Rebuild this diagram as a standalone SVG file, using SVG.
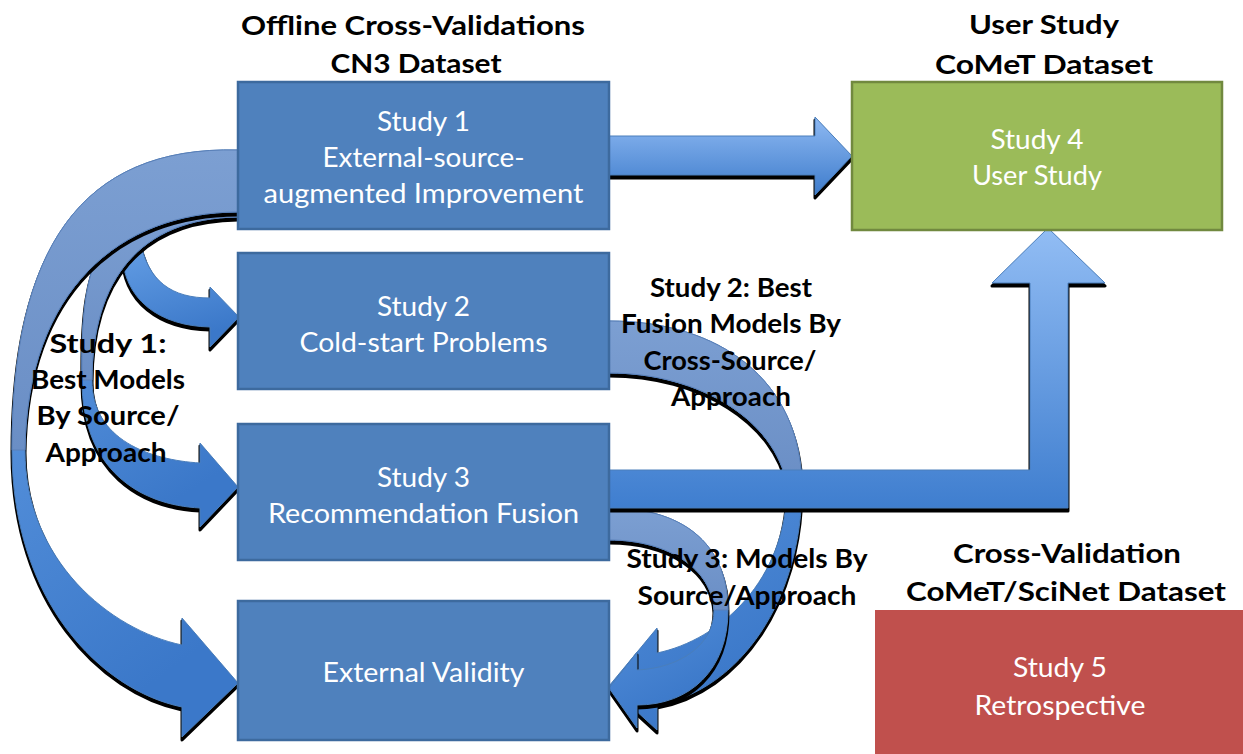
<svg xmlns="http://www.w3.org/2000/svg" width="1243" height="754" viewBox="0 0 1243 754">
  <style>
    text { font-family: Lato, "Liberation Sans", sans-serif; font-size: 26px; text-anchor: middle; }
    .title, .label { fill: #000; font-weight: bold; }
    .inbox { fill: #fff; }
    .box-blue { fill: #4F81BD; stroke: #3D6A9E; stroke-width: 2.5; }
    .box-green { fill: #9BBB59; stroke: #71893F; stroke-width: 2.5; }
    .box-red { fill: #C0504D; }
    .shadow { fill: #000; stroke: #000; stroke-width: 3; stroke-linejoin: round; }
    .arrow { stroke: #4A7EBB; stroke-width: 1; }
    .back { stroke: #5A80B8; stroke-width: 1; }
  </style>
  <defs>
    <linearGradient id="gStraight" x1="0" y1="117" x2="0" y2="195" gradientUnits="userSpaceOnUse">
      <stop offset="0" stop-color="#8EB9F2"/>
      <stop offset="1" stop-color="#3E7CCC"/>
    </linearGradient>
    <linearGradient id="gElbow" x1="0" y1="228" x2="0" y2="508" gradientUnits="userSpaceOnUse">
      <stop offset="0" stop-color="#92BDF4"/>
      <stop offset="1" stop-color="#3F7ECF"/>
    </linearGradient>
    <linearGradient id="gFront" x1="0" y1="0" x2="0.3" y2="1">
      <stop offset="0" stop-color="#66A0E6"/>
      <stop offset="1" stop-color="#3B78C9"/>
    </linearGradient>
    <linearGradient id="gBack" x1="0" y1="0" x2="0" y2="1">
      <stop offset="0" stop-color="#7C9FD2"/>
      <stop offset="1" stop-color="#6A8EC5"/>
    </linearGradient>

    <!-- curved arrow outlines (full body and the rear half) -->
    <path id="arrowA" d="M245,150 L238,150 C80,146 12,250 12,450 C12,600 100,690 182,707 L182,737 L238,683 L182,618 L182,645 C110,630 25,560 25,450 C27,290 120,212 238,212 L245,212 Z"/>
    <path id="arrowAback" d="M245,150 L238,150 C80,146 12,250 12,450 L25,450 C27,290 120,212 238,212 L245,212 Z"/>
    <path id="arrowB" d="M245,195 L238,195 C100,195 80,250 82,380 C82,470 140,505 200,508 L200,527 L238,487 L200,443 L200,463 C150,460 92,440 92,380 C92,280 140,218 238,217 L245,217 Z"/>
    <path id="arrowBback" d="M245,195 L238,195 C100,195 80,250 82,380 L92,380 C92,280 140,218 238,217 L245,217 Z"/>
    <path id="arrowC" d="M140,240 C148,282 172,298 210,298 L210,287 L239,317 L210,347 L210,327 C160,326 122,300 122,250 Z"/>
    <path id="arrowD" d="M600,321 L609,321 C720,321 800,380 802,485 C802,600 740,690 657,705 L657,730 L609,686 L657,628 L657,653 C720,640 787,580 787,485 C775,420 700,373 609,373 L600,373 Z"/>
    <path id="arrowDback" d="M600,321 L609,321 C720,321 800,380 802,485 L787,485 C775,420 700,373 609,373 L600,373 Z"/>
    <path id="arrowE" d="M600,508 L609,508 C690,508 728,550 728,610 C728,670 690,705 637,705 L637,728 L609,688 L637,652 L637,670 C680,668 714,645 714,610 C712,570 670,540 609,540 L600,540 Z"/>
    <path id="arrowEback" d="M600,508 L609,508 C690,508 728,550 728,610 L714,610 C712,570 670,540 609,540 L600,540 Z"/>
    <path id="arrowStraight" d="M600,136 L815,136 L815,117 L852,156 L815,195 L815,175 L600,175 Z"/>
    <path id="arrowElbow" d="M600,470 L1030,470 L1030,283 L992,283 L1048,228 L1105,283 L1068,283 L1068,508 L600,508 Z"/>
  </defs>

  <!-- connectors -->
  <g id="connectors">
    <!-- Study 2 to External Validity -->
    <g id="conn-s2-ext">
      <use href="#arrowD" class="shadow" transform="translate(0,3)"/>
      <use href="#arrowD" class="arrow" fill="url(#gFront)"/>
      <use href="#arrowDback" class="back" fill="url(#gBack)"/>
    </g>
    <!-- Study 3 to External Validity -->
    <g id="conn-s3-ext">
      <use href="#arrowE" class="shadow" transform="translate(0,3)"/>
      <use href="#arrowE" class="arrow" fill="url(#gFront)"/>
      <use href="#arrowEback" class="back" fill="url(#gBack)"/>
    </g>
    <!-- Study 3 to Study 4 -->
    <g id="conn-s3-s4">
      <use href="#arrowElbow" class="shadow" transform="translate(0,3)"/>
      <use href="#arrowElbow" class="arrow" fill="url(#gElbow)"/>
    </g>
    <!-- Study 1 to Study 4 -->
    <g id="conn-s1-s4">
      <use href="#arrowStraight" class="shadow" transform="translate(0,3)"/>
      <use href="#arrowStraight" class="arrow" fill="url(#gStraight)"/>
    </g>
    <!-- Study 1 to Study 2 -->
    <g id="conn-s1-s2">
      <use href="#arrowC" class="shadow" transform="translate(0,3)"/>
      <use href="#arrowC" class="arrow" fill="url(#gFront)"/>
    </g>
    <!-- Study 1 to Study 3 -->
    <g id="conn-s1-s3">
      <use href="#arrowB" class="shadow" transform="translate(0,3)"/>
      <use href="#arrowB" class="arrow" fill="url(#gFront)"/>
      <use href="#arrowBback" class="back" fill="url(#gBack)"/>
    </g>
    <!-- Study 1 to External Validity -->
    <g id="conn-s1-ext">
      <use href="#arrowA" class="shadow" transform="translate(0,3)"/>
      <use href="#arrowA" class="arrow" fill="url(#gFront)"/>
      <use href="#arrowAback" class="back" fill="url(#gBack)"/>
    </g>
  </g>

  <!-- nodes -->
  <g id="study1">
    <rect class="box-blue" x="238" y="82" width="371" height="147"/>
    <text class="inbox" x="423.5" y="131" textLength="93" lengthAdjust="spacingAndGlyphs">Study 1</text>
    <text class="inbox" x="423.5" y="167" textLength="202" lengthAdjust="spacingAndGlyphs">External-source-</text>
    <text class="inbox" x="423.5" y="203" textLength="320" lengthAdjust="spacingAndGlyphs">augmented Improvement</text>
  </g>
  <g id="study2">
    <rect class="box-blue" x="238" y="253" width="371" height="136"/>
    <text class="inbox" x="423.5" y="316" textLength="93" lengthAdjust="spacingAndGlyphs">Study 2</text>
    <text class="inbox" x="423.5" y="352" textLength="248" lengthAdjust="spacingAndGlyphs">Cold-start Problems</text>
  </g>
  <g id="study3">
    <rect class="box-blue" x="238" y="424" width="371" height="136"/>
    <text class="inbox" x="423.5" y="487" textLength="93" lengthAdjust="spacingAndGlyphs">Study 3</text>
    <text class="inbox" x="423.5" y="523" textLength="311" lengthAdjust="spacingAndGlyphs">Recommendation Fusion</text>
  </g>
  <g id="external-validity">
    <rect class="box-blue" x="238" y="601" width="371" height="139"/>
    <text class="inbox" x="423.5" y="682" textLength="202" lengthAdjust="spacingAndGlyphs">External Validity</text>
  </g>
  <g id="study4">
    <rect class="box-green" x="852" y="82" width="370" height="148"/>
    <text class="inbox" x="1037" y="149" textLength="93" lengthAdjust="spacingAndGlyphs">Study 4</text>
    <text class="inbox" x="1037" y="185" textLength="130" lengthAdjust="spacingAndGlyphs">User Study</text>
  </g>
  <g id="study5">
    <rect class="box-red" x="875" y="610" width="370" height="146"/>
    <text class="inbox" x="1060" y="677" textLength="94" lengthAdjust="spacingAndGlyphs">Study 5</text>
    <text class="inbox" x="1060" y="715" textLength="171" lengthAdjust="spacingAndGlyphs">Retrospective</text>
  </g>

  <!-- section headings -->
  <g id="headings">
    <text class="title" x="413" y="35" textLength="344" lengthAdjust="spacingAndGlyphs">Offline Cross-Validations</text>
    <text class="title" x="416" y="73" textLength="171" lengthAdjust="spacingAndGlyphs">CN3 Dataset</text>
    <text class="title" x="1044" y="34" textLength="150" lengthAdjust="spacingAndGlyphs">User Study</text>
    <text class="title" x="1044" y="74" textLength="218" lengthAdjust="spacingAndGlyphs">CoMeT Dataset</text>
    <text class="title" x="1067" y="563" textLength="228" lengthAdjust="spacingAndGlyphs">Cross-Validation</text>
    <text class="title" x="1066" y="601" textLength="320" lengthAdjust="spacingAndGlyphs">CoMeT/SciNet Dataset</text>
  </g>

  <!-- connector labels -->
  <g id="labels">
    <text class="label" x="108" y="353" textLength="117" lengthAdjust="spacingAndGlyphs">Study 1:</text>
    <text class="label" x="108" y="389" textLength="154" lengthAdjust="spacingAndGlyphs">Best Models</text>
    <text class="label" x="108" y="425" textLength="143" lengthAdjust="spacingAndGlyphs">By Source/</text>
    <text class="label" x="106" y="462" textLength="121" lengthAdjust="spacingAndGlyphs">Approach</text>
    <text class="label" x="731" y="297" textLength="162" lengthAdjust="spacingAndGlyphs">Study 2: Best</text>
    <text class="label" x="731" y="333" textLength="220" lengthAdjust="spacingAndGlyphs">Fusion Models By</text>
    <text class="label" x="730" y="370" textLength="173" lengthAdjust="spacingAndGlyphs">Cross-Source/</text>
    <text class="label" x="731" y="406" textLength="120" lengthAdjust="spacingAndGlyphs">Approach</text>
    <text class="label" x="747" y="568" textLength="241" lengthAdjust="spacingAndGlyphs">Study 3: Models By</text>
    <text class="label" x="747" y="605" textLength="219" lengthAdjust="spacingAndGlyphs">Source/Approach</text>
  </g>
</svg>
